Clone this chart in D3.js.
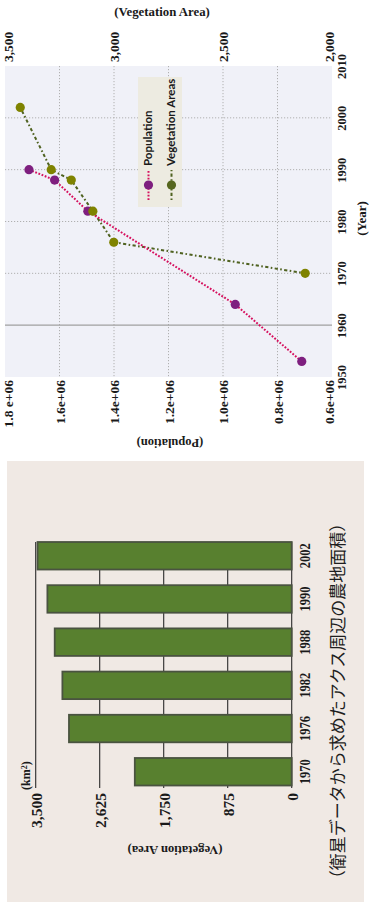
<!DOCTYPE html>
<html>
<head>
<meta charset="utf-8">
<script src="https://cdn.jsdelivr.net/npm/d3@7"></script>
<style>
  html, body { margin: 0; padding: 0; background: #fff; }
  svg { display: block; }
</style>
</head>
<body>
<svg id="chart" width="369" height="904"></svg>
<script>
// ---- Population / vegetation trend (twin value axes, years along the side) ----
const popYears = [1990, 1988, 1982, 1964, 1953];
const popValues = [1712000, 1618000, 1496000, 955000, 711000];
const vegYears = [2002, 1990, 1988, 1982, 1976, 1970];
const vegValues = [3430, 3288, 3196, 3097, 3001, 2123];
const yearTicks = [1950, 1960, 1970, 1980, 1990, 2000, 2010];
const popTicks = [1.8e6, 1.6e6, 1.4e6, 1.2e6, 1.0e6, 0.8e6, 0.6e6];
const popTickLabels = ["1.8 e+06", "1.6e+06", "1.4e+06", "1.2e+06", "1.0e+06", "0.8e+06", "0.6e+06"];
const vegTicks = [3500, 3000, 2500, 2000];
const vegTickLabels = ["3,500", "3,000", "2,500", "2,000"];
const seriesNames = ["Population", "Vegetation Areas"];

// ---- Farmland area bars ----
const barYears = ["2002", "1990", "1988", "1982", "1976", "1970"];
const barValues = [3475, 3340, 3240, 3135, 3045, 2145];
const barTicks = [0, 875, 1750, 2625, 3500];
const barTickLabels = ["0", "875", "1,750", "2,625", "3,500"];
const caption = "（衛星データから求めたアクス周辺の農地面積）";

const SERIF = "'Liberation Serif', 'DejaVu Serif', serif";
const svg = d3.select("#chart");

// ================= Trend chart =================
const P = { left: 5, right: 332, top: 66, bottom: 377 };
const popX = d3.scaleLinear().domain([1.8e6, 0.6e6]).range([P.left, P.right]);
const vegX = d3.scaleLinear().domain([3500, 2000]).range([P.left, P.right]);
const yearY = d3.scaleLinear().domain([1950, 2010]).range([P.bottom, P.top]);

svg.append("rect")
  .attr("x", P.left).attr("y", P.top)
  .attr("width", P.right - P.left).attr("height", P.bottom - P.top)
  .attr("fill", "#f0f1f8");

const grid = svg.append("g");
grid.selectAll("line.v").data(popTicks.slice(1, -1)).join("line")
  .attr("class", "v")
  .attr("x1", d => popX(d)).attr("x2", d => popX(d))
  .attr("y1", P.top).attr("y2", P.bottom)
  .attr("stroke", "#b0b0b0").attr("stroke-width", 1).attr("stroke-dasharray", "1.2,1.8");
grid.selectAll("line.h").data(yearTicks.slice(1, -1)).join("line")
  .attr("class", "h")
  .attr("x1", P.left).attr("x2", P.right)
  .attr("y1", d => yearY(d)).attr("y2", d => yearY(d))
  .attr("stroke", d => d === 1960 ? "#a0a0a0" : "#b0b0b0")
  .attr("stroke-width", d => d === 1960 ? 1.4 : 1)
  .attr("stroke-dasharray", d => d === 1960 ? null : "1.2,1.8");

// Axes: population along the bottom, vegetation along the top, years on the right
function styleAxis(g) {
  g.select(".domain").remove();
  g.selectAll(".tick line").remove();
  g.selectAll("text")
    .attr("font-family", SERIF).attr("font-weight", "bold").attr("fill", "#1a1a1a");
}
// keep the outermost rotated labels inside the frame
const edgeNudge = n => (d, i) => i === 0 ? 2.6 : (i === n - 1 ? -3 : 0);

svg.append("g")
  .attr("transform", `translate(0,${P.bottom})`)
  .call(d3.axisBottom(popX).tickValues(popTicks).tickFormat((d, i) => popTickLabels[i]))
  .call(styleAxis)
  .call(g => g.selectAll("text")
    .attr("font-size", 13.5)
    .attr("transform", "rotate(-90)")
    .attr("text-anchor", "end")
    .attr("x", -3).attr("y", edgeNudge(popTicks.length)).attr("dy", "0.35em"));

svg.append("g")
  .attr("transform", `translate(0,${P.top})`)
  .call(d3.axisTop(vegX).tickValues(vegTicks).tickFormat((d, i) => vegTickLabels[i]))
  .call(styleAxis)
  .call(g => g.selectAll("text")
    .attr("font-size", 13.5)
    .attr("transform", "rotate(-90)")
    .attr("text-anchor", "start")
    .attr("x", 4).attr("y", edgeNudge(vegTicks.length)).attr("dy", "0.35em"));

svg.append("g")
  .attr("transform", `translate(${P.right},0)`)
  .call(d3.axisRight(yearY).tickValues(yearTicks).tickFormat(d3.format("d")))
  .call(styleAxis)
  .call(g => g.selectAll("text")
    .attr("font-size", 12.5)
    .attr("transform", "rotate(-90)")
    .attr("text-anchor", "middle")
    .attr("x", 0).attr("y", 9.5).attr("dy", "0.35em"));

// Axis titles
svg.append("text")
  .attr("x", 162).attr("y", 16)
  .attr("text-anchor", "middle")
  .attr("font-family", SERIF).attr("font-weight", "bold").attr("font-size", 12.8)
  .attr("fill", "#1a1a1a")
  .text("(Vegetation Area)");
svg.append("text")
  .attr("transform", `translate(361,${(P.top + P.bottom) / 2 - 3}) rotate(-90)`)
  .attr("text-anchor", "middle").attr("dy", "0.35em")
  .attr("font-family", SERIF).attr("font-weight", "bold").attr("font-size", 13)
  .attr("fill", "#1a1a1a")
  .text("(Year)");
svg.append("text")
  .attr("transform", `translate(170,443) rotate(180)`)
  .attr("text-anchor", "middle").attr("dy", "0.35em")
  .attr("font-family", SERIF).attr("font-weight", "bold").attr("font-size", 12.5)
  .attr("fill", "#1a1a1a")
  .text("(Population)");

// Series
const popData = popYears.map((y, i) => ({ year: y, value: popValues[i] }));
const vegData = vegYears.map((y, i) => ({ year: y, value: vegValues[i] }));

const vegLine = d3.line().x(d => vegX(d.value)).y(d => yearY(d.year));
const popLine = d3.line().x(d => popX(d.value)).y(d => yearY(d.year));

const POP_LINE = "#d6105e", POP_DOT = "#7e1f7f";
const VEG_LINE = "#4f6220", VEG_DOT = "#7f8300", VEG_KEY = "#56661f";
const VEG_DASH = "1.6,2.4,3.2,2.4";
const POP_DASH = "1.8,1.6";

svg.append("path").datum(vegData)
  .attr("d", vegLine).attr("fill", "none")
  .attr("stroke", VEG_LINE).attr("stroke-width", 2).attr("stroke-dasharray", VEG_DASH);
svg.append("path").datum(popData)
  .attr("d", popLine).attr("fill", "none")
  .attr("stroke", POP_LINE).attr("stroke-width", 2).attr("stroke-dasharray", POP_DASH);

svg.append("g").selectAll("circle").data(popData).join("circle")
  .attr("cx", d => popX(d.value)).attr("cy", d => yearY(d.year)).attr("r", 4.6)
  .attr("fill", POP_DOT);
svg.append("g").selectAll("circle").data(vegData).join("circle")
  .attr("cx", d => vegX(d.value)).attr("cy", d => yearY(d.year)).attr("r", 4.6)
  .attr("fill", VEG_DOT);

// Legend
const legend = svg.append("g");
legend.append("rect")
  .attr("x", 138).attr("y", 77).attr("width", 44).attr("height", 130)
  .attr("fill", "#edebe1");
const keys = [
  { name: seriesNames[0], x: 148.5, line: POP_LINE, dot: POP_DOT, dash: POP_DASH },
  { name: seriesNames[1], x: 171.5, line: VEG_LINE, dot: VEG_KEY, dash: VEG_DASH }
];
keys.forEach(k => {
  legend.append("line")
    .attr("x1", k.x).attr("x2", k.x).attr("y1", 200).attr("y2", 170)
    .attr("stroke", k.line).attr("stroke-width", 2).attr("stroke-dasharray", k.dash);
  legend.append("circle").attr("cx", k.x).attr("cy", 185).attr("r", 4.6).attr("fill", k.dot);
  legend.append("text")
    .attr("transform", `translate(${k.x - 0.5},166) rotate(-90)`)
    .attr("text-anchor", "start").attr("dy", "0.35em")
    .attr("font-family", "Lato, 'Open Sans', sans-serif").attr("font-weight", "bold")
    .attr("font-size", 11.5).attr("fill", "#1a1a1a")
    .text(k.name);
});

// ================= Farmland bar chart =================
svg.append("rect")
  .attr("x", 7).attr("y", 461).attr("width", 357).attr("height", 441)
  .attr("fill", "#f0e9e4");

const barX = d3.scaleLinear().domain([0, 3500]).range([291.7, 35.7]);
const barY = d3.scaleBand().domain(barYears).range([542, 785.5])
  .paddingInner(0.363).paddingOuter(0);

svg.append("g").selectAll("line").data(barTicks).join("line")
  .attr("x1", d => barX(d)).attr("x2", d => barX(d))
  .attr("y1", 542).attr("y2", 788)
  .attr("stroke", "#2b2b2b").attr("stroke-width", 1.1);

svg.append("g").selectAll("rect").data(barYears).join("rect")
  .attr("x", (d, i) => barX(barValues[i]))
  .attr("y", d => barY(d))
  .attr("width", (d, i) => barX(0) - barX(barValues[i]))
  .attr("height", barY.bandwidth())
  .attr("fill", "#58802f")
  .attr("stroke", "#4a5340").attr("stroke-width", 1.8);

// value axis labels
svg.append("g")
  .attr("transform", "translate(0,788)")
  .call(d3.axisBottom(barX).tickValues(barTicks).tickFormat((d, i) => barTickLabels[i]))
  .call(styleAxis)
  .call(g => g.selectAll("text")
    .attr("font-size", 15.5)
    .attr("transform", "rotate(-90)")
    .attr("text-anchor", "end")
    .attr("x", -5).attr("y", 0).attr("dy", "0.35em"));

// category labels
svg.append("g")
  .attr("transform", "translate(291.7,0)")
  .call(d3.axisRight(barY))
  .call(styleAxis)
  .call(g => g.selectAll("text")
    .attr("font-size", 14.5)
    .attr("textLength", 25).attr("lengthAdjust", "spacingAndGlyphs")
    .attr("transform", "rotate(-90)")
    .attr("text-anchor", "middle")
    .attr("x", 0).attr("y", 13.5).attr("dy", "0.35em"));

// unit
const unit = svg.append("text")
  .attr("transform", "translate(26,790) rotate(-90)")
  .attr("text-anchor", "start").attr("dy", "0.35em")
  .attr("font-family", SERIF).attr("font-weight", "bold").attr("font-size", 12)
  .attr("fill", "#1a1a1a");
unit.append("tspan").text("(km");
unit.append("tspan").attr("font-size", 8).attr("dy", "-0.45em").text("2");
unit.append("tspan").attr("dy", "0.3em").text(")");

svg.append("text")
  .attr("transform", "translate(175,850) rotate(180)")
  .attr("text-anchor", "middle").attr("dy", "0.35em")
  .attr("font-family", SERIF).attr("font-weight", "bold").attr("font-size", 12.7)
  .attr("fill", "#1a1a1a")
  .text("(Vegetation Area)");

svg.append("text")
  .attr("transform", "translate(338,701) rotate(-90)")
  .attr("text-anchor", "middle").attr("dy", "0.36em")
  .attr("font-family", "'Noto Sans CJK JP', sans-serif").attr("font-size", 17)
  .attr("fill", "#1e1e1e")
  .text(caption);
</script>
</body>
</html>
